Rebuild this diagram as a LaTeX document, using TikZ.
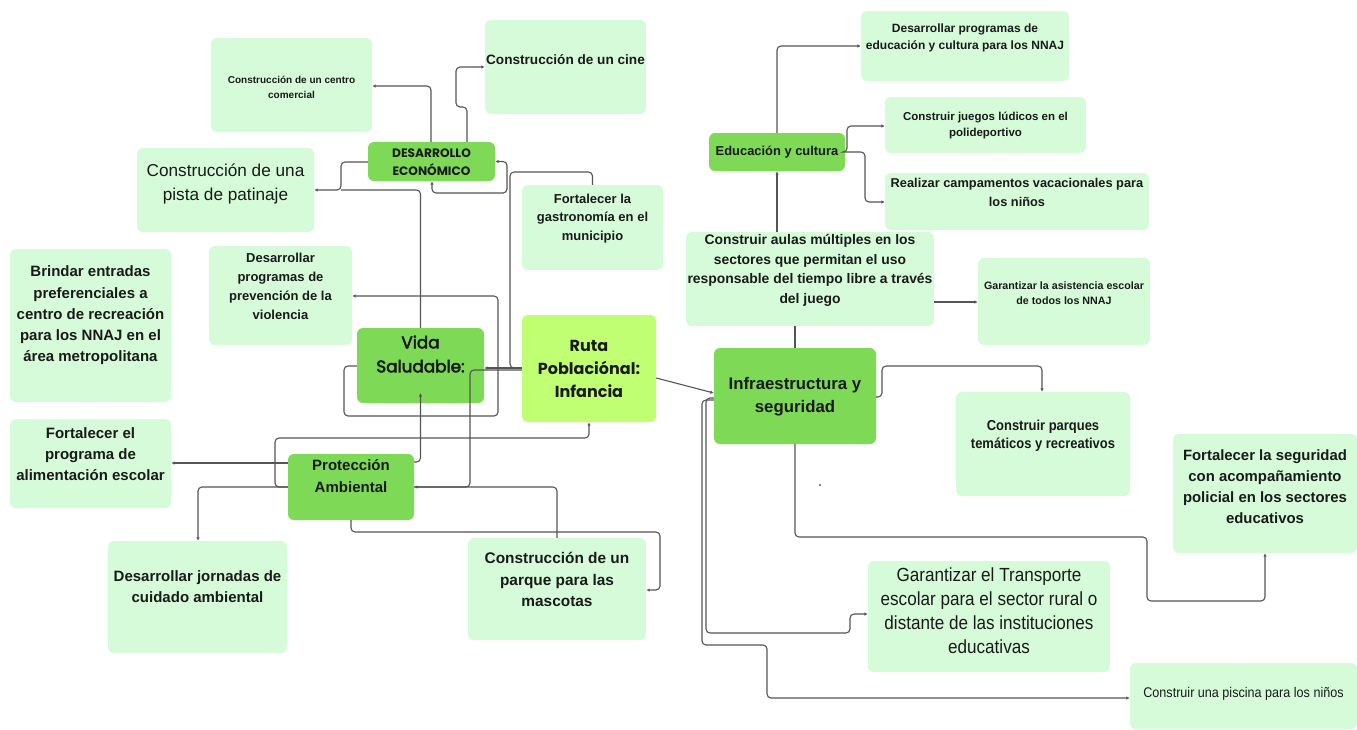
\documentclass[tikz,border=0pt]{standalone}
\usepackage{fontspec}
\setmainfont{Liberation Sans}
\newfontfamily\pop{Poppins}
\newfontfamily\popm[FakeBold=3]{Poppins}
\newfontfamily\narrow[FakeStretch=0.9]{Liberation Sans}
\usetikzlibrary{arrows.meta,backgrounds}
\definecolor{lg}{HTML}{D6FBD8}
\definecolor{dg}{HTML}{7ED957}
\definecolor{lime}{HTML}{C1FF72}
\definecolor{lc}{HTML}{555555}
\definecolor{tc}{HTML}{1A1A1A}
\newcommand\myfs[2]{\fontsize{#1}{#2}\selectfont}
\tikzset{
  lbox/.style={rounded corners=6pt, fill=lg, draw=none, inner sep=0pt},
  dbox/.style={rounded corners=6pt, fill=dg, draw=none, inner sep=0pt},
  rbox/.style={rounded corners=6pt, fill=lime, draw=none, inner sep=0pt},
  txt/.style={align=center, inner sep=0pt, text=tc},
  con/.style={draw=lc, line width=1.1pt, rounded corners=4pt},
  arr/.style={con, -{Latex[length=3.5pt,width=3.5pt]}},
  arrs/.style={con, {Latex[length=3.5pt,width=3.5pt]}-},
  arrb/.style={con, {Latex[length=3.5pt,width=3.5pt]}-{Latex[length=3.5pt,width=3.5pt]}}
}
\begin{document}
\begin{tikzpicture}[x=1pt,y=-1pt]
\useasboundingbox (0,0) rectangle (1357,729);
\fill[white] (0,0) rectangle (1357,729);
% boxes
\node[lbox, minimum width=161pt, minimum height=94pt] (cc) at (291.5,85) {};
\node[lbox, minimum width=161pt, minimum height=94pt] (cine) at (565.5,67) {};
\node[dbox, minimum width=127pt, minimum height=39pt] (de) at (431.5,161.5) {};
\node[lbox, minimum width=177pt, minimum height=84pt] (pista) at (225.5,190) {};
\node[lbox, minimum width=141pt, minimum height=85pt] (gas) at (592.5,227.5) {};
\node[lbox, minimum width=161pt, minimum height=153pt] (brin) at (90.5,325.5) {};
\node[lbox, minimum width=143pt, minimum height=99pt] (prev) at (280.5,295.5) {};
\node[dbox, minimum width=127pt, minimum height=75pt] (vida) at (420.5,365.5) {};
\node[rbox, minimum width=134pt, minimum height=107pt] (ruta) at (589,368.5) {};
\node[lbox, minimum width=161pt, minimum height=89pt] (alim) at (90.5,463.5) {};
\node[dbox, minimum width=126pt, minimum height=66pt] (prot) at (351,487) {};
\node[lbox, minimum width=179pt, minimum height=112pt] (jorn) at (197.5,597) {};
\node[lbox, minimum width=178pt, minimum height=102pt] (masc) at (557,589) {};
\node[dbox, minimum width=136pt, minimum height=38pt] (edu) at (777,152) {};
\node[lbox, minimum width=208pt, minimum height=70pt] (nnaj) at (965,46) {};
\node[lbox, minimum width=201pt, minimum height=56pt] (jueg) at (985.5,125) {};
\node[lbox, minimum width=264pt, minimum height=57pt] (camp) at (1017,201.5) {};
\node[lbox, minimum width=248pt, minimum height=94pt] (aulas) at (810,279) {};
\node[lbox, minimum width=172pt, minimum height=87pt] (asis) at (1064,301.5) {};
\node[dbox, minimum width=162pt, minimum height=96pt] (infra) at (795,396) {};
\node[lbox, minimum width=174pt, minimum height=104pt] (parq) at (1043,444) {};
\node[lbox, minimum width=184pt, minimum height=119pt] (seg) at (1265,493.5) {};
\node[lbox, minimum width=242pt, minimum height=111pt] (trans) at (989,616.5) {};
\node[lbox, minimum width=227pt, minimum height=66pt] (pisc) at (1243.5,696) {};
% texts
\node[txt, font=\bfseries\myfs{10}{15}] (cct) at (291.5,87.5) {Construcción de un centro\\comercial};
\node[txt, font=\bfseries\myfs{13.6}{15}] (cinet) at (565.5,60) {Construcción de un cine};
\node[txt, font=\pop\bfseries\myfs{12.2}{18}] (det) at (431.5,162) {DESARROLLO\\ECONÓMICO};
\node[txt, font=\myfs{17.2}{24}] (pistat) at (225.5,184) {Construcción de una\\pista de patinaje};
\node[txt, font=\bfseries\myfs{13}{18.5}] (gast) at (592.5,218.5) {Fortalecer la\\gastronomía en el\\municipio};
\node[txt, font=\bfseries\myfs{15}{21.25}] (brint) at (90.5,315.5) {Brindar entradas\\preferenciales a\\centro de recreación\\para los NNAJ en el\\área metropolitana};
\node[txt, font=\bfseries\myfs{13}{19}] (prevt) at (280.5,286.5) {Desarrollar\\programas de\\prevención de la\\violencia};
\node[txt, font=\popm\myfs{16.8}{24}] (vidat) at (420.5,354) {Vida\\Saludable:};
\node[txt, font=\pop\bfseries\myfs{16}{23}] (rutat) at (589,369) {Ruta\\Poblaciónal:\\Infancia};
\node[txt, font=\bfseries\myfs{15}{21}] (alimt) at (90.5,454) {Fortalecer el\\programa de\\alimentación escolar};
\node[txt, font=\bfseries\myfs{15}{22}] (prott) at (351,476) {Protección\\Ambiental};
\node[txt, font=\bfseries\myfs{15}{21}] (jornt) at (197.5,586.5) {Desarrollar jornadas de\\cuidado ambiental};
\node[txt, font=\bfseries\myfs{15.4}{21.5}] (masct) at (557,579.5) {Construcción de un\\parque para las\\mascotas};
\node[txt, font=\bfseries\myfs{12.9}{15}] (edut) at (777,152) {Educación y cultura};
\node[txt, font=\bfseries\myfs{12}{17}] (nnajt) at (965,37.5) {Desarrollar programas de\\educación y cultura para los NNAJ};
\node[txt, font=\bfseries\myfs{11.5}{16}] (juegt) at (985.5,125) {Construir juegos lúdicos en el\\polideportivo};
\node[txt, font=\bfseries\myfs{12.8}{19}] (campt) at (1017,192.5) {Realizar campamentos vacacionales para\\los niños};
\node[txt, font=\bfseries\myfs{13.9}{19.7}] (aulast) at (810,270.5) {Construir aulas múltiples en los\\sectores que permitan el uso\\responsable del tiempo libre a través\\del juego};
\node[txt, font=\bfseries\myfs{10.7}{15}] (asist) at (1064,293.5) {Garantizar la asistencia escolar\\de todos los NNAJ};
\node[txt, font=\bfseries\myfs{16.8}{23}] (infrat) at (795,396.5) {Infraestructura y\\seguridad};
\node[txt, font=\narrow\bfseries\myfs{14.4}{18}] (parqt) at (1043,436) {Construir parques\\temáticos y recreativos};
\node[txt, font=\bfseries\myfs{14.9}{21}] (segt) at (1265,486.5) {Fortalecer la seguridad\\con acompañamiento\\policial en los sectores\\educativos};
\node[txt, font=\narrow\myfs{19}{24}] (transt) at (989,611) {Garantizar el Transporte\\escolar para el sector rural o\\distante de las instituciones\\educativas};
\node[txt, font=\narrow\myfs{14}{15}] (pisct) at (1243.5,694) {Construir una piscina para los niños};
% connectors
\begin{pgfonlayer}{background}
\draw[arr] (ruta.east |- 0,368) -| (edu.west |- 0,162);
\end{pgfonlayer}
\draw[arr] (431,0 |- de.north) |- (cc.east |- 0,86);
\draw[arr] (467,0 |- de.north) |- (456,107) |- (cine.west |- 0,67);
\draw[arr] (de.west |- 0,162) -| (341,190) -- (pista.east |- 0,190);
\draw[con] (341,190) -| (vida.north);
\draw[con] (gas.north) |- (510,172) |- (ruta.west |- 0,368);
\draw[arrb] (432,0 |- de.south) |- (507,193) |- (de.east);
\draw[arr] (ruta.west |- 0,368) -- (vida.east |- 0,368);
\draw[arr] (ruta.west |- 0,370) -| (470,487) -- (prot.east |- 0,487);
\draw[arrs] (vida.center |- 0,393) |- (prot.east |- 0,462);
\draw[arr] (vida.west |- 0,366) -| (344,416) -| (498,296) -- (prev.east |- 0,296);
\draw[arr] (prot.west |- 0,487) -| (275,438) -| (589,0 |- ruta.south);
\draw[arr] (prot.west |- 0,463) -- (alim.east |- 0,463);
\draw[arr] (prot.west |- 0,487) -| (198,0 |- jorn.north);
\draw[arr] (351,0 |- prot.south) |- (660,532) |- (masc.east |- 0,590);
\draw[con] (prot.east |- 0,487) -| (557,0 |- masc.north);
\draw[arr] (ruta.east |- 0,378) -- (infra.west |- 0,393);
\draw[arr] (edu.south |- aulas.north) -- (edu.south);
\draw[arr] (edu.north) |- (nnaj.west);
\draw[arr] (edu.east) -| (847,126) -- (jueg.west |- 0,126);
\draw[arr] (edu.east) -| (865,202) -- (camp.west |- 0,202);
\draw[arr] (aulas.east |- 0,302) -- (asis.west |- 0,302);
\draw[con] (infra.north |- aulas.south) -- (infra.north);
\draw[arr] (infra.east |- 0,397) -| (882,366) -| (1042,0 |- parq.north);
\draw[arr] (infra.south) |- (1147,537) |- (1265,601) -- (seg.south);
\draw[arr] (infra.west |- 0,398) -| (706,633) -| (850,614) -- (trans.west |- 0,614);
\draw[arr] (infra.west |- 0,400) -| (702,645) -| (767,698) -- (pisc.west |- 0,698);
\fill[lc] (820,485) circle (1.2pt);
\end{tikzpicture}
\end{document}
